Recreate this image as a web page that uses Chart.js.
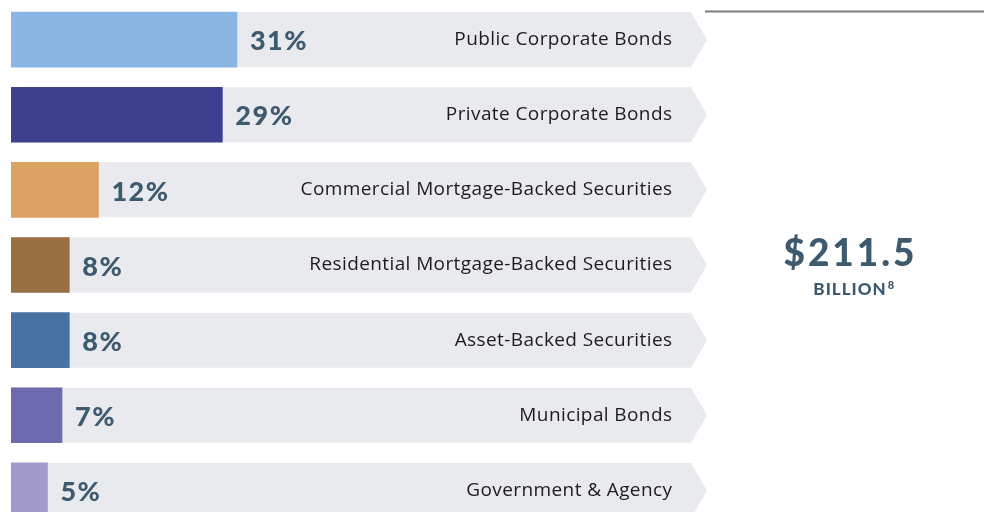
<!DOCTYPE html>
<html><head><meta charset="utf-8">
<script src="https://cdn.jsdelivr.net/npm/chart.js@4/dist/chart.umd.min.js"></script>
<style>
html,body{margin:0;padding:0;background:#fff;overflow:hidden;width:984px;height:512px}
#wrap{position:relative;width:984px;height:530px}
canvas{display:block}
</style></head><body><div id="wrap"><canvas id="c" width="984" height="530"></canvas></div>
<script>
const categories = ['Public Corporate Bonds','Private Corporate Bonds','Commercial Mortgage-Backed Securities','Residential Mortgage-Backed Securities','Asset-Backed Securities','Municipal Bonds','Government & Agency'];
const shares = [31, 29, 12, 8, 8, 7, 5];
const valueLabels = ['31%','29%','12%','8%','8%','7%','5%'];
const barColors = ['#89b6e3','#3f3f8f','#daa362','#9a6f42','#4673a1','#6f6aae','#a29ac9'];
const totalAmount = '$211.5';
const totalUnit = 'BILLION';
const totalNote = '8';

const TRACK = '#e9eaee';
const VALUE_COLOR = '#3e5a6e';

const trackPlugin = {
  id: 'track',
  beforeDatasetsDraw(chart) {
    const ctx = chart.ctx, area = chart.chartArea;
    const meta = chart.getDatasetMeta(0);
    ctx.save();
    ctx.fillStyle = TRACK;
    meta.data.forEach(el => {
      const h = el.height, y = el.y;
      ctx.beginPath();
      ctx.moveTo(area.left, y - h/2);
      ctx.lineTo(area.right, y - h/2);
      ctx.lineTo(area.right + 16, y);
      ctx.lineTo(area.right, y + h/2);
      ctx.lineTo(area.left, y + h/2);
      ctx.closePath();
      ctx.fill();
    });
    ctx.restore();
  },
  afterDatasetsDraw(chart) {
    const ctx = chart.ctx, area = chart.chartArea;
    const meta = chart.getDatasetMeta(0);
    ctx.save();
    ctx.textBaseline = 'middle';
    meta.data.forEach((el, i) => {
      ctx.fillStyle = VALUE_COLOR;
      ctx.font = '900 27px Lato';
      ctx.letterSpacing = '1.5px';
      ctx.textAlign = 'left';
      ctx.fillText(valueLabels[i], el.x + 13, el.y + 2);
      ctx.fillStyle = '#1c1c1c';
      ctx.font = '19px "Open Sans"';
      ctx.letterSpacing = '0.4px';
      ctx.textAlign = 'right';
      ctx.fillText(categories[i], area.right - 19 + 0.4, el.y);
    });
    // top rule
    ctx.letterSpacing = '0px';
    ctx.strokeStyle = '#7a7a7a';
    ctx.lineWidth = 2;
    ctx.beginPath();
    ctx.moveTo(705, 11.5);
    ctx.lineTo(984, 11.5);
    ctx.stroke();
    // total
    ctx.fillStyle = VALUE_COLOR;
    ctx.textAlign = 'center';
    ctx.textBaseline = 'alphabetic';
    ctx.font = '900 37px Lato';
    ctx.letterSpacing = '3px';
    ctx.fillText(totalAmount, 850.5, 266);
    ctx.font = '900 17px Lato';
    ctx.letterSpacing = '1px';
    const w = ctx.measureText(totalUnit).width;
    ctx.textAlign = 'left';
    const x0 = 850 - w/2;
    ctx.fillText(totalUnit, x0, 295);
    ctx.font = '900 11px Lato';
    ctx.letterSpacing = '0px';
    ctx.fillText(totalNote, x0 + w + 1, 289);
    ctx.restore();
  }
};

new Chart(document.getElementById('c'), {
  type: 'bar',
  data: {
    labels: categories,
    datasets: [{
      data: shares,
      backgroundColor: barColors,
      borderWidth: 0,
      barThickness: 55
    }]
  },
  options: {
    indexAxis: 'y',
    responsive: false,
    animation: false,
    layout: { padding: { left: 11, right: 293, top: 2, bottom: 2 } },
    scales: {
      x: { display: false, min: 0, max: 93.3, grid: { display: false } },
      y: { display: false, grid: { display: false } }
    },
    plugins: { legend: { display: false }, tooltip: { enabled: false } }
  },
  plugins: [trackPlugin]
});
</script>
</body></html>
